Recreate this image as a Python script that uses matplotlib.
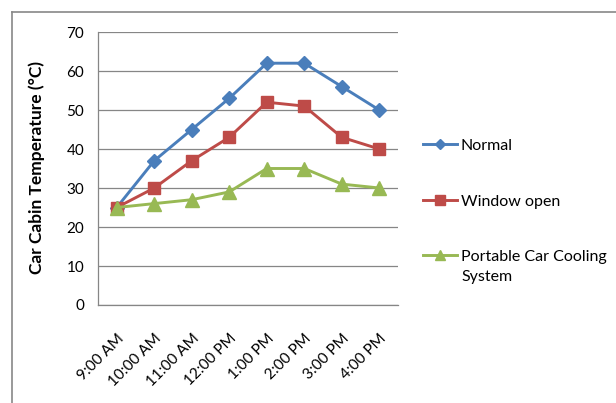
import matplotlib
matplotlib.use("Agg")
import matplotlib.pyplot as plt
from matplotlib.lines import Line2D

plt.rcParams['font.family'] = ['Lato', 'DejaVu Sans']

# Data
times = ["9:00 AM", "10:00 AM", "11:00 AM", "12:00 PM", "1:00 PM", "2:00 PM", "3:00 PM", "4:00 PM"]
normal = [25, 37, 45, 53, 62, 62, 56, 50]
window_open = [25, 30, 37, 43, 52, 51, 43, 40]
cooling = [25, 26, 27, 29, 35, 35, 31, 30]
series_names = ["Normal", "Window open", "Portable Car Cooling\nSystem"]

colors = ["#4A7EBB", "#BE4B48", "#98B954"]
markers = ["D", "s", "^"]
msizes = [7.5, 8.5, 9.5]
leg_msizes = [5, 6.5, 7]

W, H = 616, 403
fig = plt.figure(figsize=(W / 100, H / 100), dpi=100)
ax = fig.add_axes([98 / W, 1 - 305 / H, 300 / W, 273 / H])

x = list(range(len(times)))
for vals, c, m, s in zip([normal, window_open, cooling], colors, markers, msizes):
    ax.plot(x, vals, color=c, lw=2.1, marker=m, ms=s)

ax.set_xlim(-0.5, len(times) - 0.5)
ax.set_ylim(0, 70)
ax.set_yticks(range(0, 71, 10))
ax.set_xticks(x)
ax.set_xticklabels(times, rotation=45, ha="right", rotation_mode="anchor")
ax.tick_params(axis="both", length=0, labelsize=11, colors="#000000")
ax.tick_params(axis="x", pad=19)
ax.tick_params(axis="y", pad=10)

ax.grid(axis="y", color="#868686", lw=0.9)
ax.set_axisbelow(True)
for s in ["top", "right"]:
    ax.spines[s].set_visible(False)
for s in ["left", "bottom"]:
    ax.spines[s].set_color("#868686")
    ax.spines[s].set_linewidth(0.9)

ax.set_ylabel("Car Cabin Temperature (°C)", fontsize=12.5, fontweight="bold")
ax.yaxis.set_label_coords(45 / W, 1 - 168 / H, transform=fig.transFigure)

# legend, drawn by hand to match spacing
leg_y = [144, 200, 255]
for name, c, m, s, yy in zip(series_names, colors, markers, leg_msizes, leg_y):
    yf = 1 - yy / H
    fig.add_artist(Line2D([423 / W, 457 / W], [yf, yf], color=c, lw=2.1, transform=fig.transFigure))
    fig.add_artist(Line2D([440 / W], [yf], color=c, marker=m, ms=s, transform=fig.transFigure))
    fig.text(461 / W, yf + 5 / H, name, fontsize=11.5, va="top", ha="left", linespacing=1.5)

# outer chart border
fig.add_artist(Line2D([12 / W, 12 / W], [0, 1 - 12 / H], color="#888888", lw=1.2, transform=fig.transFigure))
fig.add_artist(Line2D([12 / W, 1], [1 - 12 / H, 1 - 12 / H], color="#888888", lw=1.2, transform=fig.transFigure))

fig.savefig("out.png", dpi=100)
